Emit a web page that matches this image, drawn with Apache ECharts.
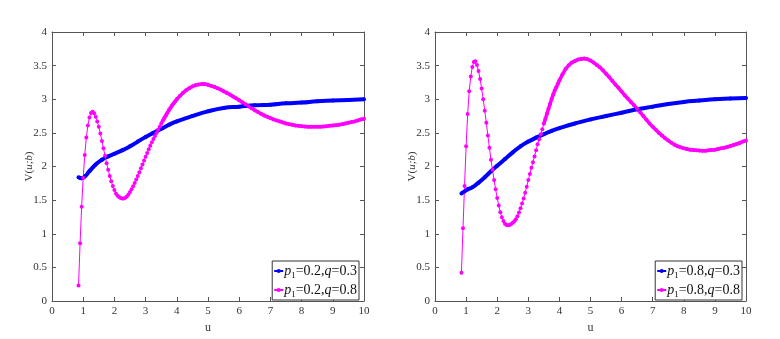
<!DOCTYPE html>
<html lang="en">
<head>
    <meta charset="UTF-8">
    <title>V(u;b)</title>
    <script src="https://cdn.jsdelivr.net/npm/echarts@6/dist/echarts.min.js"></script>
</head>
<body style="margin:0;background:#fff;">
    <div id="main" style="width:780px;height:339px;"></div>
</body>
    <script>
        // u grid of the magenta curves (fine at the start, coarser later)
        var uMag = [0.85,0.9,0.95,1,1.05,1.1,1.15,1.2,1.25,1.3,
            1.35,1.4,1.45,1.5,1.55,1.6,1.65,1.7,1.75,1.8,
            1.85,1.9,1.95,2,2.05,2.1,2.15,2.2,2.25,2.3,
            2.35,2.4,2.45,2.5,2.55,2.6,2.65,2.7,2.75,2.8,
            2.85,2.9,2.95,3,3.05,3.1,3.15,3.2,3.25,3.3,
            3.35,3.4,3.45,3.5,3.55,3.6,3.65,3.7,3.75,3.8,
            3.85,3.9,3.95,4,
            4.1,4.2,4.3,4.4,4.5,4.6,4.7,4.8,4.9,5,
            5.1,5.2,5.3,5.4,5.5,5.6,5.7,5.8,5.9,6,
            6.1,6.2,6.3,6.4,6.5,6.6,6.7,6.8,6.9,7,
            7.1,7.2,7.3,7.4,7.5,7.6,7.7,7.8,7.9,8,
            8.1,8.2,8.3,8.4,8.5,8.6,8.7,8.8,8.9,9,
            9.1,9.2,9.3,9.4,9.5,9.6,9.7,9.8,9.9,10];
        // p1=0.2, q=0.8
        var magLeft = [0.23,0.86,1.40,1.83,2.17,2.43,2.61,2.73,2.795,2.815,
            2.79,2.74,2.67,2.59,2.49,2.38,2.27,2.16,2.05,1.95,
            1.86,1.78,1.71,1.65,1.60,1.565,1.545,1.53,1.525,1.525,
            1.535,1.555,1.585,1.62,1.66,1.705,1.755,1.805,1.86,1.915,
            1.975,2.03,2.09,2.145,2.20,2.255,2.31,2.36,2.41,2.455,
            2.50,2.545,2.59,2.635,2.68,2.72,2.76,2.80,2.84,2.875,
            2.91,2.94,2.97,3.00,
            3.05,3.095,3.135,3.165,3.19,3.21,3.22,3.225,3.225,3.215,
            3.20,3.185,3.165,3.145,3.12,3.095,3.07,3.04,3.015,2.985,
            2.955,2.925,2.895,2.865,2.835,2.81,2.785,2.76,2.74,2.72,
            2.70,2.685,2.67,2.655,2.64,2.63,2.62,2.61,2.605,2.60,
            2.595,2.59,2.59,2.59,2.59,2.59,2.595,2.60,2.605,2.61,
            2.615,2.62,2.63,2.64,2.65,2.66,2.67,2.685,2.70,2.71];
        // p1=0.8, q=0.8
        var magRight = [0.42,1.08,1.71,2.30,2.78,3.12,3.34,3.48,3.555,3.565,
            3.51,3.42,3.30,3.16,3.00,2.83,2.65,2.46,2.28,2.10,
            1.95,1.80,1.66,1.53,1.42,1.32,1.245,1.19,1.15,1.13,
            1.125,1.13,1.145,1.165,1.185,1.215,1.26,1.315,1.38,1.45,
            1.525,1.61,1.70,1.80,1.89,1.98,2.065,2.15,2.24,2.33,
            2.405,2.48,2.555,2.635,2.71,2.785,2.86,2.93,3.005,3.07,
            3.13,3.18,3.23,3.28,
            3.37,3.45,3.505,3.545,3.57,3.59,3.60,3.605,3.595,3.575,
            3.545,3.51,3.475,3.43,3.38,3.33,3.275,3.22,3.17,3.115,
            3.06,3.01,2.96,2.91,2.86,2.805,2.75,2.695,2.64,2.59,
            2.545,2.50,2.46,2.42,2.385,2.355,2.325,2.30,2.285,2.27,
            2.26,2.25,2.245,2.24,2.237,2.235,2.235,2.24,2.245,2.25,
            2.26,2.27,2.28,2.29,2.305,2.32,2.335,2.35,2.37,2.385];

        // u grid of the blue curves
        var uBlue = [0.85,0.95,1.05,1.2,1.4,1.6,1.8,2,2.25,2.5,2.75,3,3.25,3.5,3.75,4,
            4.5,5,5.5,6,6.5,7,7.5,8,8.5,9,9.5,10];
        // p1=0.2, q=0.3
        var blueLeft = [1.84,1.825,1.85,1.93,2.03,2.10,2.15,2.19,2.24,2.30,2.37,2.44,2.50,2.56,2.62,2.67,
            2.75,2.82,2.87,2.89,2.91,2.92,2.94,2.95,2.97,2.98,2.99,3.00];
        // p1=0.8, q=0.3
        var blueRight = [1.60,1.63,1.66,1.69,1.76,1.84,1.93,2.01,2.11,2.21,2.30,2.37,2.43,2.48,2.53,2.57,
            2.64,2.70,2.75,2.80,2.85,2.89,2.93,2.96,2.98,3.00,3.01,3.02];

        var namesLeft = ['p1=0.2,q=0.3', 'p1=0.2,q=0.8'];
        var namesRight = ['p1=0.8,q=0.3', 'p1=0.8,q=0.8'];

        function pairs(u, v) {
            return u.map(function (x, i) { return [x, v[i]]; });
        }

        var serif = 'Liberation Serif';
        var axisColor = '#555';
        var labelStyle = {color: '#333', fontFamily: serif, fontSize: 11, margin: 5};

        function xAx(grid, top) {
            return {
                gridIndex: grid, type: 'value', min: 0, max: 10, interval: 1,
                position: top ? 'top' : 'bottom',
                axisLine: {show: true, onZero: false, lineStyle: {color: axisColor, width: 1}},
                axisTick: {show: true, inside: true, length: 4, lineStyle: {color: axisColor}},
                axisLabel: top ? {show: false} : labelStyle,
                splitLine: {show: false},
                name: top ? '' : 'u', nameLocation: 'middle', nameGap: 21,
                nameTextStyle: {color: '#333', fontFamily: serif, fontSize: 12}
            };
        }
        function yAx(grid, right) {
            return {
                gridIndex: grid, type: 'value', min: 0, max: 4, interval: 0.5,
                position: right ? 'right' : 'left',
                axisLine: {show: true, onZero: false, lineStyle: {color: axisColor, width: 1}},
                axisTick: {show: true, inside: true, length: 4, lineStyle: {color: axisColor}},
                axisLabel: right ? {show: false} : labelStyle,
                splitLine: {show: false},
                name: right ? '' : '{n|V(}{i|u;b}{n|)}', nameLocation: 'middle', nameGap: 17, nameRotate: 90,
                nameMoveOverlap: false,
                nameTextStyle: {
                    color: '#333', fontFamily: serif, fontSize: 11,
                    rich: {
                        n: {color: '#333', fontFamily: serif, fontSize: 11},
                        i: {color: '#333', fontFamily: serif, fontSize: 11, fontStyle: 'italic'}
                    }
                }
            };
        }

        function legendText(name) {
            // p1=0.2,q=0.3 -> italic p, subscript 1, italic q
            var m = name.match(/^p1=([\d.]+),q=([\d.]+)$/);
            return '{i|p}{s|1}{n|=' + m[1] + ',}{i|q}{n|=' + m[2] + '}';
        }
        var legendRich = {
            n: {fontFamily: serif, fontSize: 14, color: '#111', lineHeight: 18},
            i: {fontFamily: serif, fontSize: 14, color: '#111', fontStyle: 'italic', lineHeight: 18},
            s: {fontFamily: serif, fontSize: 9, color: '#111', lineHeight: 9, verticalAlign: 'bottom'}
        };
        function legend(names, right) {
            return {
                data: names, orient: 'vertical', right: right, bottom: 39,
                backgroundColor: '#fff', borderColor: '#333', borderWidth: 1,
                padding: [1, 2, 1, 1], itemGap: 1, itemWidth: 9, itemHeight: 5,
                formatter: legendText,
                textStyle: {rich: legendRich, lineHeight: 18, padding: [0, 0, 0, -4]}
            };
        }

        function blue(name, xi, data) {
            return {
                name: name, type: 'line', xAxisIndex: xi, yAxisIndex: xi, smooth: true,
                symbol: 'circle', symbolSize: 4, showSymbol: true,
                itemStyle: {color: '#0000ff'}, lineStyle: {color: '#0000ff', width: 4},
                data: data
            };
        }
        function magenta(name, xi, data) {
            return {
                name: name, type: 'line', xAxisIndex: xi, yAxisIndex: xi,
                symbol: 'circle', symbolSize: 4, showSymbol: true,
                itemStyle: {color: '#ff00ff'}, lineStyle: {color: '#ff00ff', width: 1},
                data: data
            };
        }
        // where the markers sit close together the original reads as a solid band
        function band(xi, data) {
            return {
                name: 'band' + xi, type: 'line', xAxisIndex: xi, yAxisIndex: xi,
                symbol: 'none', silent: true, z: 2,
                lineStyle: {color: '#ff00ff', width: 3.5},
                data: data
            };
        }
        var bandStart = uMag.indexOf(3.5);

        var chart = echarts.init(document.getElementById('main'));
        chart.setOption({
            animation: false,
            backgroundColor: '#fff',
            grid: [
                {left: 52, right: 416, top: 32, bottom: 35},
                {left: 435, right: 34, top: 32, bottom: 35}
            ],
            xAxis: [xAx(0, false), xAx(0, true), xAx(1, false), xAx(1, true)],
            yAxis: [yAx(0, false), yAx(0, true), yAx(1, false), yAx(1, true)],
            legend: [legend(namesLeft, 421), legend(namesRight, 38)],
            series: [
                blue(namesLeft[0], 0, pairs(uBlue, blueLeft)),
                band(0, pairs(uMag, magLeft).slice(bandStart)),
                magenta(namesLeft[1], 0, pairs(uMag, magLeft)),
                blue(namesRight[0], 2, pairs(uBlue, blueRight)),
                band(2, pairs(uMag, magRight).slice(bandStart)),
                magenta(namesRight[1], 2, pairs(uMag, magRight))
            ]
        });
    </script>
</html>
